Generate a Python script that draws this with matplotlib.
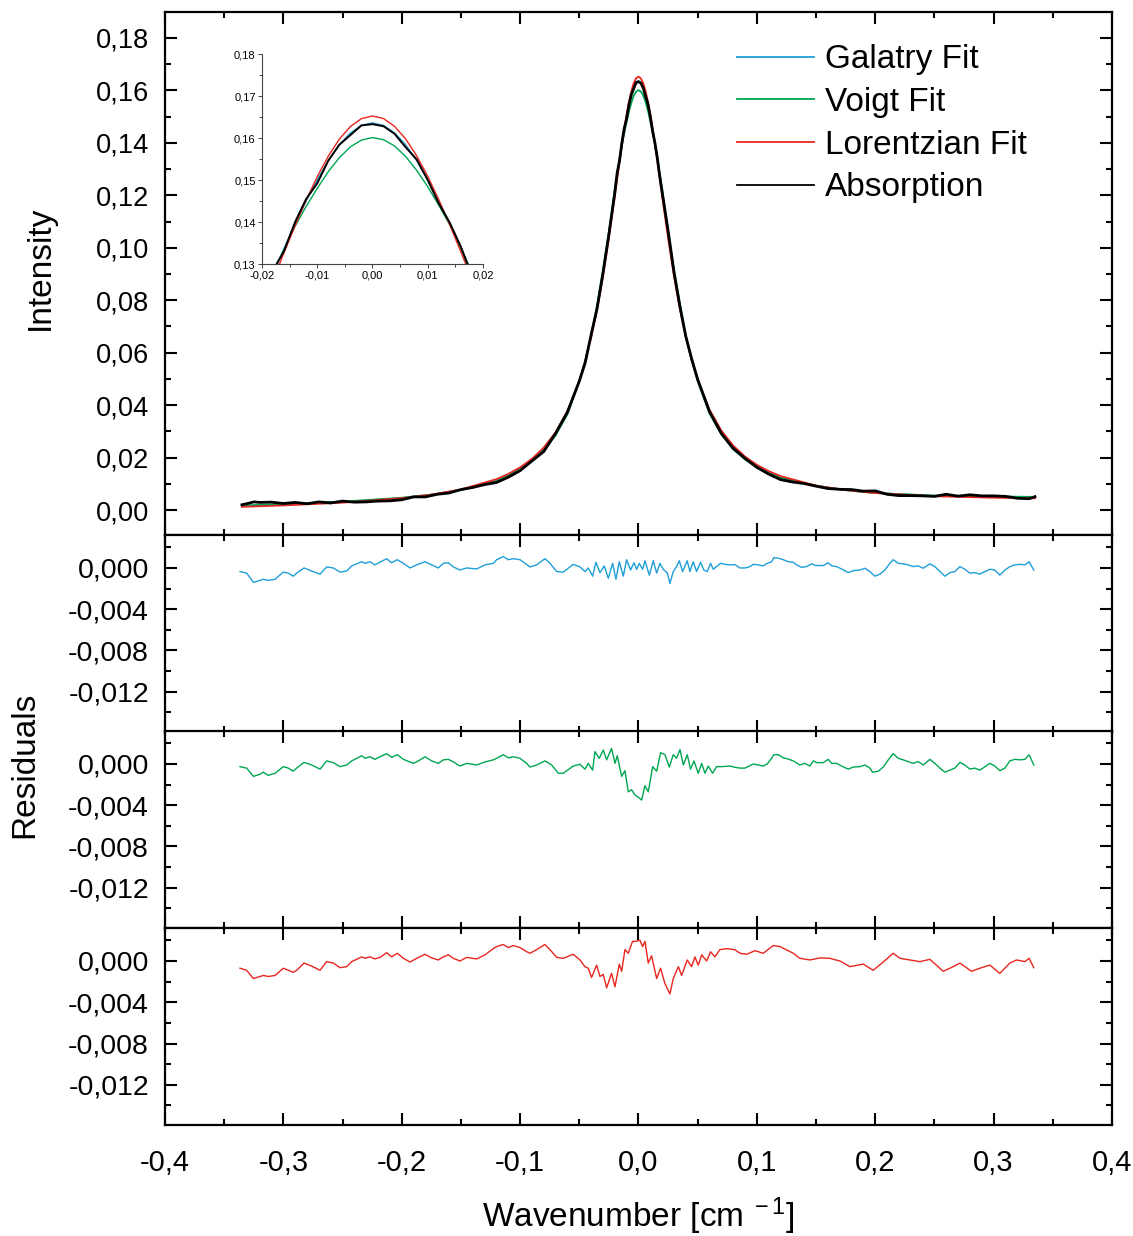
import matplotlib
matplotlib.use("Agg")
from matplotlib import pyplot as plt
from matplotlib.ticker import MultipleLocator, FuncFormatter

plt.rcParams["font.family"] = ["Liberation Sans", "DejaVu Sans"]
plt.rcParams["mathtext.fontset"] = "custom"
plt.rcParams["mathtext.rm"] = "Liberation Sans"
plt.rcParams["mathtext.it"] = "Liberation Sans:italic"

# ---- main panel: fitted profiles (shared x grid) ----
fit_x = [-0.335, -0.30, -0.25, -0.20, -0.175, -0.15, -0.12, -0.11, -0.10, -0.09,
         -0.08, -0.07, -0.06, -0.05, -0.045, -0.04, -0.035, -0.03, -0.025,
         -0.020, -0.018, -0.016, -0.014, -0.012, -0.010, -0.008, -0.006, -0.004, -0.002,
         0.0, 0.002, 0.004, 0.006, 0.008, 0.010, 0.012, 0.014, 0.016, 0.018, 0.020,
         0.025, 0.03, 0.035, 0.04, 0.045, 0.05, 0.06, 0.07, 0.08, 0.09,
         0.10, 0.11, 0.12, 0.15, 0.175, 0.20, 0.25, 0.30, 0.335]

galatry_fit = [0.0016, 0.0021, 0.0030, 0.0045, 0.0058, 0.0077, 0.0113, 0.0133, 0.0158, 0.0191,
               0.0234, 0.0294, 0.0377, 0.0492, 0.0568, 0.0661, 0.0771, 0.0899, 0.1053,
               0.1212, 0.1276, 0.1337, 0.1396, 0.1450, 0.1500, 0.1546, 0.1584, 0.1612, 0.1630,
               0.1636, 0.1630, 0.1612, 0.1584, 0.1546, 0.1500, 0.1450, 0.1396, 0.1337, 0.1276, 0.1212,
               0.1055, 0.0902, 0.0773, 0.0664, 0.0573, 0.0497, 0.0381, 0.0300, 0.0242, 0.0200,
               0.0167, 0.0143, 0.0125, 0.0092, 0.0076, 0.0065, 0.0054, 0.0051, 0.0049]

voigt_fit = [0.0017, 0.0023, 0.0032, 0.0047, 0.0059, 0.0076, 0.0110, 0.0130, 0.0155, 0.0187,
             0.0226, 0.0285, 0.0365, 0.0491, 0.0570, 0.0665, 0.0780, 0.0915, 0.1059,
             0.1222, 0.1280, 0.1335, 0.1390, 0.1437, 0.1480, 0.1520, 0.1553, 0.1579, 0.1595,
             0.1601, 0.1596, 0.1581, 0.1556, 0.1523, 0.1484, 0.1440, 0.1393, 0.1338, 0.1281, 0.1224,
             0.1063, 0.0916, 0.0788, 0.0665, 0.0570, 0.0491, 0.0369, 0.0289, 0.0232, 0.0193,
             0.0162, 0.0140, 0.0122, 0.0093, 0.0076, 0.0065, 0.0055, 0.0052, 0.0050]

lorentz_fit = [0.00121, 0.00175, 0.00280, 0.00451, 0.00586, 0.00784, 0.01177, 0.01375, 0.01626, 0.0195,
               0.02381, 0.02962, 0.03771, 0.04915, 0.05663, 0.0656, 0.07631, 0.08894, 0.10349,
               0.11952, 0.12614, 0.13272, 0.13913, 0.1452, 0.15078, 0.15568, 0.15972, 0.16274, 0.16461,
               0.16525, 0.16463, 0.16278, 0.15978, 0.15576, 0.15088, 0.14532, 0.13927, 0.13288, 0.12632, 0.11972,
               0.10373, 0.08924, 0.07665, 0.066, 0.05707, 0.04965, 0.03829, 0.03031, 0.02459, 0.02039,
               0.01724, 0.01483, 0.01295, 0.00931, 0.00758, 0.00647, 0.00525, 0.00469, 0.00449]

# ---- main panel: measured absorption ----
absorption_x = [-0.335, -0.33, -0.325, -0.32, -0.31, -0.30, -0.29, -0.28, -0.27, -0.26,
                -0.25, -0.24, -0.23, -0.22, -0.21, -0.20, -0.19, -0.18, -0.17, -0.16,
                -0.15, -0.14, -0.13, -0.12, -0.11, -0.10, -0.09, -0.08, -0.07, -0.06,
                -0.05, -0.045, -0.04, -0.035, -0.03, -0.025,
                -0.020, -0.018, -0.016, -0.014, -0.012, -0.010, -0.008, -0.006, -0.004, -0.002,
                0.0, 0.002, 0.004, 0.006, 0.008, 0.010, 0.012, 0.014, 0.016, 0.018, 0.020,
                0.025, 0.03, 0.035, 0.04, 0.045, 0.05, 0.06, 0.07, 0.08, 0.09,
                0.10, 0.11, 0.12, 0.13, 0.14, 0.15, 0.16, 0.17, 0.18, 0.19,
                0.20, 0.21, 0.22, 0.23, 0.24, 0.25, 0.26, 0.27, 0.28, 0.29,
                0.30, 0.31, 0.32, 0.33, 0.335]
absorption = [0.0020, 0.0025, 0.0031, 0.0029, 0.0030, 0.0025, 0.0029, 0.0024, 0.0031, 0.0027,
              0.0034, 0.0030, 0.0031, 0.0034, 0.0035, 0.0039, 0.0050, 0.0050, 0.0060, 0.0065,
              0.0078, 0.0086, 0.0097, 0.0105, 0.0125, 0.0150, 0.0187, 0.0223, 0.0292, 0.0373,
              0.0491, 0.0561, 0.0668, 0.0767, 0.0902, 0.1050,
              0.1209, 0.1285, 0.1331, 0.1400, 0.1455, 0.1492, 0.1546, 0.1584, 0.1607, 0.1630,
              0.1633, 0.1628, 0.1610, 0.1578, 0.1549, 0.1500, 0.1444, 0.1398, 0.1341, 0.1272, 0.1213,
              0.1067, 0.0908, 0.0777, 0.0662, 0.0576, 0.0499, 0.0375, 0.0292, 0.0235, 0.0197,
              0.0163, 0.0137, 0.0116, 0.0107, 0.0101, 0.0091, 0.0082, 0.0079, 0.0078, 0.0072,
              0.0073, 0.0060, 0.0055, 0.0055, 0.0054, 0.0052, 0.0060, 0.0053, 0.0058, 0.0054,
              0.0054, 0.0052, 0.0045, 0.0043, 0.0051]

# ---- residuals (fit - data) ----
galatry_res_x = [-0.3366, -0.3310, -0.3253, -0.3225, -0.3169, -0.3127, -0.3070, -0.3000, -0.2958, -0.2916,
                 -0.2887, -0.2825, -0.2760, -0.2690, -0.2634, -0.2578, -0.2521, -0.2465, -0.2422, -0.2338,
                 -0.2310, -0.2268, -0.2226, -0.2184, -0.2127, -0.2085, -0.2037, -0.1986, -0.1930, -0.1873,
                 -0.1803, -0.1747, -0.1691, -0.1648, -0.1606, -0.1564, -0.1508, -0.1451, -0.1367, -0.1296,
                 -0.1226, -0.1198, -0.1142, -0.1100, -0.1057, -0.1001, -0.0959, -0.0916, -0.0860, -0.0790,
                 -0.0747, -0.0691, -0.0635, -0.0551, -0.0494, -0.0452, -0.0424, -0.0387, -0.0359, -0.0325,
                 -0.0289, -0.0255, -0.0218, -0.0190, -0.0162, -0.0128, -0.0100, -0.0066, -0.0038, -0.0015,
                 0.0007, 0.0035, 0.0055, 0.0092, 0.0125, 0.0154, 0.0181, 0.0210, 0.0244, 0.0266,
                 0.0294, 0.0322, 0.0345, 0.0373, 0.0412, 0.0435, 0.0463, 0.0491, 0.0525, 0.0553,
                 0.0581, 0.0609, 0.0632, 0.0666, 0.0694, 0.0731, 0.0773, 0.0815, 0.0857, 0.0900,
                 0.0942, 0.0970, 0.1012, 0.1054, 0.1088, 0.1125, 0.1144, 0.1181, 0.1223, 0.1265,
                 0.1308, 0.1336, 0.1378, 0.1420, 0.1463, 0.1491, 0.1519, 0.1561, 0.1603, 0.1632,
                 0.1674, 0.1716, 0.1772, 0.1815, 0.1871, 0.1913, 0.1955, 0.1998, 0.2040, 0.2082,
                 0.2124, 0.2152, 0.2195, 0.2237, 0.2279, 0.2321, 0.2364, 0.2406, 0.2462, 0.2504,
                 0.2547, 0.2589, 0.2631, 0.2673, 0.2716, 0.2758, 0.2800, 0.2842, 0.2884, 0.2927,
                 0.2969, 0.3011, 0.3053, 0.3096, 0.3138, 0.3180, 0.3222, 0.3265, 0.3300, 0.3340]
galatry_res = [-0.00035, -0.0005, -0.0014, -0.0013, -0.0011, -0.0012, -0.0011, -0.0004, -0.0005, -0.0008,
               -0.0005, 0.0, -0.0003, -0.0006, 0.0001, 0.0, -0.0004, -0.0003, 0.0002, 0.0006,
               0.00045, 0.0006, 0.0003, 0.00055, 0.0009, 0.0005, 0.0008, 0.00045, 0.0, 0.0003,
               0.0006, 0.0003, 0.0, 0.00045, 0.0005, 0.0001, -0.0002, 0.0, -0.0001, 0.0003,
               0.00045, 0.0008, 0.0011, 0.0008, 0.0009, 0.0008, 0.00045, 0.0001, 0.0003, 0.0009,
               0.00045, -0.00035, -0.0004, 0.00035, 0.0001, -0.00035, 0.0, -0.0008, 0.00055, -0.00045,
               0.0002, -0.0010, 0.00045, -0.0011, 0.0006, -0.0008, 0.0008, -0.0002, 0.0005, -0.00013,
               0.00045, -0.00013, 0.0007, -0.0007, 0.0007, -0.0005, 0.00045, -0.00013, -0.0005, -0.0015,
               -0.00035, 0.00013, 0.0007, -0.00035, 0.0007, -0.00035, 0.0006, -0.00035, 0.00055, -0.0002,
               -0.00035, 0.00045, -0.00013, 0.0002, 0.00045, 0.00035, 0.0003, 0.00032, 0.0, 0.0,
               0.00013, 0.00035, 0.0003, 0.0002, 0.00045, 0.0006, 0.0010, 0.00095, 0.0008, 0.0006,
               0.00055, 0.0003, 0.00006, 0.00013, 0.0004, 0.00026, 0.00023, 0.00023, 0.0005, 0.0002,
               0.00013, -0.0001, -0.00045, -0.00026, -0.0002, -0.00003, -0.00035, -0.0008, -0.0006, -0.0002,
               0.00045, 0.0008, 0.00045, 0.0004, 0.0003, 0.00013, 0.0002, -0.00003, 0.0004, 0.00013,
               -0.00035, -0.0008, -0.00045, -0.00035, 0.00013, -0.00013, -0.0005, -0.00045, -0.0006, -0.00035,
               -0.00013, -0.0002, -0.0007, -0.0002, 0.00013, 0.0003, 0.00035, 0.0003, 0.0006, -0.0002]

voigt_res_x = [-0.3366, -0.3310, -0.3253, -0.3197, -0.3169, -0.3127, -0.3070, -0.3000, -0.2958, -0.2916,
               -0.2887, -0.2825, -0.2760, -0.2690, -0.2634, -0.2578, -0.2521, -0.2465, -0.2422, -0.2338,
               -0.2310, -0.2268, -0.2226, -0.2184, -0.2127, -0.2085, -0.2037, -0.1986, -0.1901, -0.1859,
               -0.1803, -0.1747, -0.1691, -0.1648, -0.1606, -0.1564, -0.1508, -0.1451, -0.1367, -0.1296,
               -0.1226, -0.1198, -0.1142, -0.1100, -0.1057, -0.1001, -0.0944, -0.0916, -0.0860, -0.0790,
               -0.0733, -0.0677, -0.0635, -0.0551, -0.0494, -0.0452, -0.0424, -0.0387, -0.0367, -0.0331,
               -0.0297, -0.0269, -0.0227, -0.0198, -0.0179, -0.0142, -0.0114, -0.0086, -0.0058, -0.0030,
               0.0007, 0.0027, 0.0055, 0.0083, 0.0120, 0.0154, 0.0187, 0.0224, 0.0261, 0.0294,
               0.0322, 0.0351, 0.0379, 0.0412, 0.0440, 0.0469, 0.0505, 0.0534, 0.0562, 0.0590,
               0.0626, 0.0660, 0.0702, 0.0773, 0.0815, 0.0857, 0.0900, 0.0970, 0.1012, 0.1054,
               0.1088, 0.1125, 0.1144, 0.1181, 0.1223, 0.1265, 0.1308, 0.1364, 0.1406, 0.1448,
               0.1477, 0.1505, 0.1561, 0.1603, 0.1632, 0.1674, 0.1716, 0.1772, 0.1815, 0.1871,
               0.1913, 0.1955, 0.1978, 0.2026, 0.2068, 0.2110, 0.2152, 0.2195, 0.2237, 0.2279,
               0.2321, 0.2364, 0.2406, 0.2462, 0.2504, 0.2547, 0.2589, 0.2631, 0.2673, 0.2716,
               0.2758, 0.2800, 0.2842, 0.2884, 0.2927, 0.2969, 0.3011, 0.3053, 0.3096, 0.3138,
               0.3180, 0.3222, 0.3265, 0.3300, 0.3340]
voigt_res = [-0.00026, -0.0004, -0.0012, -0.0010, -0.0008, -0.0011, -0.0009, -0.00026, -0.0004, -0.0007,
             -0.0004, 0.00016, -0.0001, -0.0005, 0.0003, 0.00013, -0.00026, -0.0001, 0.0003, 0.0008,
             0.00055, 0.0007, 0.00045, 0.0007, 0.0010, 0.00065, 0.0009, 0.00045, 0.00006, 0.0003,
             0.0007, 0.0003, 0.00006, 0.0004, 0.00045, 0.0002, -0.0002, 0.00006, -0.0001, 0.0002,
             0.0004, 0.00055, 0.0009, 0.0006, 0.0007, 0.00055, 0.00006, -0.0003, -0.0001, 0.0003,
             -0.0001, -0.0009, -0.0009, -0.0002, -0.00003, -0.0005, 0.00006, -0.0006, 0.0012, 0.00055,
             0.00135, 0.0004, 0.0015, 0.00006, 0.0008, -0.0012, -0.00065, -0.0027, -0.0025, -0.0030,
             -0.0033, -0.0035, -0.0021, -0.0027, -0.00026, -0.0007, 0.0011, 0.0009, -0.0003, 0.0009,
             0.00055, 0.0014, -0.0001, 0.0009, -0.0005, 0.0003, -0.0009, 0.00006, -0.0009, -0.0002,
             -0.0009, -0.00026, -0.00026, -0.0002, -0.00032, -0.0004, -0.0004, 0.0, -0.0001, -0.0002,
             0.0, 0.00055, 0.0009, 0.0009, 0.0006, 0.00048, 0.0003, -0.0001, 0.00006, -0.0002,
             0.0003, 0.00013, 0.00013, 0.00045, 0.00006, 0.00006, -0.0002, -0.0005, -0.0003, -0.00026,
             -0.0001, -0.0004, -0.0008, -0.0007, -0.0003, 0.00039, 0.0010, 0.00055, 0.0004, 0.00023,
             0.00006, 0.00023, -0.0001, 0.00045, 0.00006, -0.0004, -0.0008, -0.0006, -0.0004, 0.00016,
             -0.0001, -0.0005, -0.0004, -0.0006, -0.00026, 0.00006, -0.0002, -0.00065, -0.0004, 0.0003,
             0.00045, 0.0004, 0.00045, 0.0009, -0.0001]

lorentz_res_x = [-0.3366, -0.3310, -0.3253, -0.3197, -0.3169, -0.3127, -0.3070, -0.3000, -0.2958, -0.2916,
                 -0.2887, -0.2825, -0.2760, -0.2690, -0.2634, -0.2578, -0.2521, -0.2465, -0.2422, -0.2338,
                 -0.2310, -0.2268, -0.2226, -0.2184, -0.2127, -0.2085, -0.2037, -0.1986, -0.1930, -0.1873,
                 -0.1803, -0.1747, -0.1691, -0.1648, -0.1606, -0.1564, -0.1508, -0.1451, -0.1367, -0.1296,
                 -0.1226, -0.1198, -0.1142, -0.1100, -0.1057, -0.1001, -0.0944, -0.0916, -0.0860, -0.0790,
                 -0.0747, -0.0691, -0.0635, -0.0551, -0.0494, -0.0452, -0.0424, -0.0396, -0.0353, -0.0325,
                 -0.0297, -0.0269, -0.0227, -0.0198, -0.0162, -0.0142, -0.0114, -0.0086, -0.0050, -0.0030,
                 0.0013, 0.0035, 0.0055, 0.0083, 0.0111, 0.0154, 0.0187, 0.0224, 0.0266, 0.0294,
                 0.0337, 0.0365, 0.0412, 0.0449, 0.0477, 0.0505, 0.0534, 0.0576, 0.0609, 0.0646,
                 0.0688, 0.0745, 0.0815, 0.0857, 0.0914, 0.0984, 0.1054, 0.1139, 0.1195, 0.1308,
                 0.1364, 0.1448, 0.1533, 0.1617, 0.1702, 0.1786, 0.1899, 0.1983, 0.2068, 0.2152,
                 0.2209, 0.2293, 0.2378, 0.2462, 0.2575, 0.2659, 0.2716, 0.2814, 0.2884, 0.2969,
                 0.3053, 0.3138, 0.3194, 0.3265, 0.3300, 0.3340]
lorentz_res = [-0.0007, -0.0009, -0.0017, -0.0015, -0.0014, -0.0015, -0.0014, -0.0007, -0.0009, -0.0011,
               -0.0009, -0.0002, -0.0005, -0.0009, -0.00006, -0.0002, -0.00065, -0.00055, -0.00006, 0.0004,
               0.00026, 0.0004, 0.0002, 0.00035, 0.0008, 0.0004, 0.00075, 0.00026, -0.0001, 0.00026,
               0.00065, 0.0003, 0.0001, 0.0004, 0.0006, 0.00026, 0.0, 0.00035, 0.0002, 0.0006,
               0.0012, 0.0014, 0.0016, 0.0013, 0.0015, 0.0013, 0.0009, 0.00075, 0.0011, 0.0016,
               0.0011, 0.00035, 0.00026, 0.00065, 0.0001, -0.00055, -0.0007, -0.0016, -0.0004, -0.0015,
               -0.0013, -0.0026, -0.0012, -0.0025, -0.0003, -0.0010, 0.0011, 0.00075, 0.0019, 0.0019,
               0.0020, 0.0014, 0.0019, -0.0002, 0.0005, -0.0017, -0.0007, -0.0022, -0.0032, -0.0017,
               -0.00055, -0.0014, 0.0001, -0.00055, 0.0004, -0.0004, 0.0006, 0.0, 0.0009, 0.0004,
               0.0011, 0.0012, 0.0011, 0.00075, 0.00065, 0.0010, 0.00075, 0.0015, 0.0014, 0.00075,
               0.00026, 0.0001, 0.0003, 0.00026, 0.0, -0.00055, -0.0003, -0.0009, -0.0001, 0.00075,
               0.00026, 0.0001, -0.00006, 0.00016, -0.0010, -0.00055, -0.0002, -0.0010, -0.0007, -0.0004,
               -0.0012, -0.0002, 0.0001, -0.00006, 0.00026, -0.00065]

BLUE = "#1f9fd8"
GREEN = "#00a651"
RED = "#e8261f"


def comma(decimals):
    def fmt(v, pos):
        if abs(v) < 1e-12:
            v = 0.0
        return f"{v:.{decimals}f}".replace(".", ",")
    return FuncFormatter(fmt)


def frame(ax, ylabelsize):
    for s in ax.spines.values():
        s.set_linewidth(1.6)
    ax.tick_params(which="both", direction="in", top=True, right=True, width=1.5)
    ax.tick_params(which="major", length=8.5)
    ax.tick_params(which="minor", length=4.5)
    ax.tick_params(axis="y", labelsize=ylabelsize, pad=11.5)
    ax.tick_params(axis="x", labelsize=21, pad=17)
    ax.set_xlim(-0.4, 0.4)
    ax.xaxis.set_major_locator(MultipleLocator(0.1))
    ax.xaxis.set_minor_locator(MultipleLocator(0.05))
    ax.xaxis.set_major_formatter(comma(1))


fig = plt.figure(figsize=(11.33, 12.36), dpi=100)

ax = fig.add_axes([0.1456, 0.5672, 0.8358, 0.4231])
frame(ax, 19.6)
l_gal, = ax.plot(fit_x, galatry_fit, color=BLUE, lw=1.3)
l_voi, = ax.plot(fit_x, voigt_fit, color=GREEN, lw=1.3)
l_lor, = ax.plot(fit_x, lorentz_fit, color=RED, lw=1.3)
l_abs, = ax.plot(absorption_x, absorption, color="black", lw=2.0)
ax.set_ylim(-0.0095, 0.1899)
ax.yaxis.set_major_locator(MultipleLocator(0.02))
ax.yaxis.set_minor_locator(MultipleLocator(0.01))
ax.yaxis.set_major_formatter(comma(2))
ax.tick_params(labelbottom=False)
leg = ax.legend([l_gal, l_voi, l_lor, l_abs], ["Galatry Fit", "Voigt Fit", "Lorentzian Fit", "Absorption"],
                loc="upper left", bbox_to_anchor=(0.604, 0.938), frameon=False, fontsize=24,
                handlelength=2.3, handletextpad=0.33, labelspacing=0.35, borderpad=0, borderaxespad=0)
for line in leg.get_lines():
    line.set_linewidth(1.3)

# inset around the line centre
ins = fig.add_axes([0.2312, 0.7864, 0.1951, 0.1699])
ins.plot(fit_x, galatry_fit, color=BLUE, lw=1.0)
ins.plot(fit_x, voigt_fit, color=GREEN, lw=1.0)
ins.plot(fit_x, lorentz_fit, color=RED, lw=1.0)
ins.plot(absorption_x, absorption, color="black", lw=1.4)
ins.set_xlim(-0.02, 0.02)
ins.set_ylim(0.13, 0.18)
for side in ("top", "right"):
    ins.spines[side].set_visible(False)
for side in ("left", "bottom"):
    ins.spines[side].set_linewidth(0.8)
    ins.spines[side].set_color("#444444")
ins.patch.set_alpha(0)
ins.xaxis.set_major_locator(MultipleLocator(0.01))
ins.xaxis.set_minor_locator(MultipleLocator(0.005))
ins.yaxis.set_major_locator(MultipleLocator(0.01))
ins.yaxis.set_minor_locator(MultipleLocator(0.005))
ins.xaxis.set_major_formatter(comma(2))
ins.yaxis.set_major_formatter(comma(2))
ins.tick_params(which="both", direction="out", width=0.7, labelsize=8, pad=1.5, color="#444444")
ins.tick_params(which="major", length=3)
ins.tick_params(which="minor", length=2)

# residual panels
panels = [(0.4078, galatry_res_x, galatry_res, BLUE),
          (0.2492, voigt_res_x, voigt_res, GREEN),
          (0.0898, lorentz_res_x, lorentz_res, RED)]
for i, (bottom, rx, ry, col) in enumerate(panels):
    rax = fig.add_axes([0.1456, bottom, 0.8358, 0.1594])
    frame(rax, 20.5)
    rax.plot(rx, ry, color=col, lw=1.0)
    rax.set_ylim(-0.0159, 0.0032)
    rax.yaxis.set_major_locator(MultipleLocator(0.004))
    rax.yaxis.set_minor_locator(MultipleLocator(0.002))
    rax.yaxis.set_major_formatter(comma(3))
    if i < 2:
        rax.tick_params(labelbottom=False)

fig.text(0.0353, 0.783, "Intensity", rotation=90, ha="center", va="center", fontsize=24)
fig.text(0.022, 0.381, "Residuals", rotation=90, ha="center", va="center", fontsize=24)
fig.text(0.563, 0.0068, "Wavenumber [cm$^{\\ -1}$]", ha="center", va="baseline", fontsize=24)

fig.savefig("out.png", dpi=100)
